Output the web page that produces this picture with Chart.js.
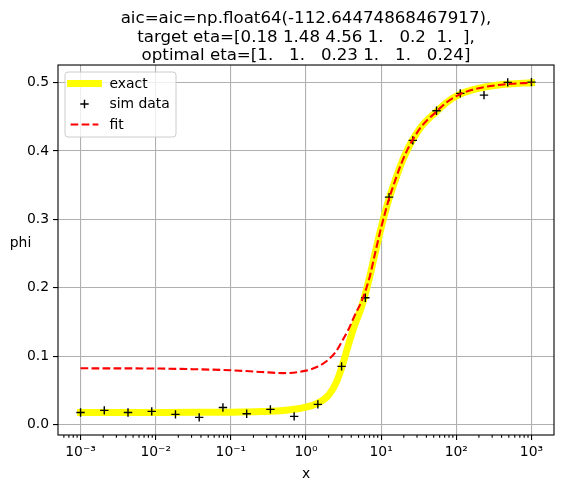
<!DOCTYPE html>
<html>
<head>
<meta charset="utf-8">
<script src="https://cdn.jsdelivr.net/npm/chart.js@4.4.1/dist/chart.umd.min.js"></script>
<style>
  html, body { margin: 0; padding: 0; background: #fff; }
  #wrap { position: relative; width: 564px; height: 492px; }
</style>
</head>
<body>
<div id="wrap"><canvas id="chart"></canvas></div>
<script>
// values
const simX = [0.001, 0.002069, 0.004281, 0.008859, 0.01833, 0.03793, 0.07848, 0.1624, 0.336, 0.6952,
              1.438, 2.976, 6.158, 12.74, 26.37, 54.56, 112.9, 233.6, 483.3, 1000]
const simY = [0.0178, 0.0208, 0.0178, 0.0193, 0.0149, 0.0105, 0.0251, 0.0158, 0.0222, 0.0120,
              0.0295, 0.0851, 0.1854, 0.3326, 0.4155, 0.4588, 0.4842, 0.4817, 0.5003, 0.5007]

const curveX = [0.001, 0.003162, 0.01, 0.03162, 0.1, 0.2512, 0.5012, 1, 1.413, 1.995, 2.512, 3.02,
                3.631, 4.467, 5.623, 7.079, 8.318, 10, 11.48, 12.88, 15.49, 18.62, 22.39, 28.18,
                36.31, 54.95, 74.13, 112.2, 158.5, 251.2, 501.2, 1000]
const exactY = [0.0178, 0.0178, 0.0178, 0.0179, 0.0182, 0.0190, 0.0205, 0.0255, 0.031, 0.043, 0.061, 0.085,
                0.115, 0.146, 0.176, 0.217, 0.251, 0.288, 0.313, 0.332, 0.358, 0.382, 0.402, 0.422,
                0.439, 0.458, 0.471, 0.483, 0.489, 0.494, 0.498, 0.4997]
const fitY = [0.0823, 0.0822, 0.0820, 0.0810, 0.0794, 0.0770, 0.0753, 0.0789, 0.0845, 0.095, 0.107, 0.122,
              0.138, 0.160, 0.183, 0.217, 0.251, 0.288, 0.313, 0.332, 0.358, 0.382, 0.402, 0.422,
              0.439, 0.458, 0.471, 0.483, 0.489, 0.494, 0.498, 0.4997]

const xTickExps = [-3, -2, -1, 0, 1, 2, 3]
const yTicks = [0, 0.1, 0.2, 0.3, 0.4, 0.5]
const titleLines = [
  "aic=aic=np.float64(-112.64474868467917),",
  "target eta=[0.18 1.48 4.56 1.   0.2  1.  ],",
  "optimal eta=[1.   1.   0.23 1.   1.   0.24]"
]

const FONT = "DejaVu Sans"
const SUP = { "-": "\u207B", "0": "\u2070", "1": "\u00B9", "2": "\u00B2", "3": "\u00B3" }
const toPoints = (xs, ys) => xs.map((x, i) => ({ x: x, y: ys[i] }))
const powLabel = (v) => "10" + String(Math.round(Math.log10(v))).split("").map(c => SUP[c]).join("")

Chart.defaults.font.family = FONT
Chart.defaults.color = "#000"

// black box round the axes + short minor ticks on the log axis
const framePlugin = {
  id: "frame",
  afterDatasetsDraw(chart) {
    const { ctx, chartArea } = chart
    const xs = chart.scales.x
    ctx.save()
    ctx.strokeStyle = "#000"
    ctx.lineWidth = 1.1
    for (let k = -4; k <= 3; k++) {
      for (let m = 2; m <= 9; m++) {
        const v = m * Math.pow(10, k)
        if (v < xs.min || v > xs.max) continue
        const px = xs.getPixelForValue(v)
        ctx.beginPath()
        ctx.moveTo(px, chartArea.bottom)
        ctx.lineTo(px, chartArea.bottom + 2.8)
        ctx.stroke()
      }
    }
    ctx.strokeRect(chartArea.left, chartArea.top, chartArea.right - chartArea.left, chartArea.bottom - chartArea.top)
    ctx.restore()
  }
}

// matplotlib style legend in the upper left corner, and the horizontal "phi" label
const legendPlugin = {
  id: "mplLegend",
  afterDraw(chart) {
    const { ctx, chartArea } = chart
    const x0 = chartArea.left + 7, y0 = chartArea.top + 7
    const w = 111, h = 65, r = 3
    ctx.save()
    ctx.beginPath()
    ctx.roundRect(x0, y0, w, h, r)
    ctx.fillStyle = "rgba(255,255,255,0.8)"
    ctx.fill()
    ctx.strokeStyle = "#cccccc"
    ctx.lineWidth = 1
    ctx.stroke()

    const hx0 = x0 + 5.6, hx1 = hx0 + 27.8
    ctx.font = "13.9px " + FONT
    ctx.textBaseline = "middle"
    ctx.textAlign = "left"
    chart.data.datasets.forEach((ds, i) => {
      const cy = y0 + 11.5 + i * 20.5
      ctx.save()
      if (ds.showLine === false) {
        const cx = (hx0 + hx1) / 2, rr = ds.pointRadius
        ctx.strokeStyle = ds.pointBorderColor
        ctx.lineWidth = ds.pointBorderWidth
        ctx.beginPath()
        ctx.moveTo(cx - rr, cy); ctx.lineTo(cx + rr, cy)
        ctx.moveTo(cx, cy - rr); ctx.lineTo(cx, cy + rr)
        ctx.stroke()
      } else {
        ctx.strokeStyle = ds.borderColor
        ctx.lineWidth = ds.borderWidth
        ctx.lineCap = ds.borderCapStyle || "butt"
        ctx.setLineDash(ds.borderDash || [])
        ctx.beginPath()
        ctx.moveTo(hx0, cy); ctx.lineTo(hx1, cy)
        ctx.stroke()
      }
      ctx.restore()
      ctx.fillStyle = "#000"
      ctx.fillText(ds.label, hx1 + 11.1, cy + 0.5)
    })

    ctx.textAlign = "center"
    ctx.fillText("phi", 20.5, 243)
    ctx.restore()
  }
}

new Chart(document.getElementById("chart"), {
  type: "line",
  data: {
    datasets: [
      {
        label: "exact",
        data: toPoints(curveX, exactY),
        borderColor: "#ffff00",
        borderWidth: 7,
        borderCapStyle: "square",
        pointRadius: 0,
        cubicInterpolationMode: "monotone",
        order: 3
      },
      {
        label: "sim data",
        data: toPoints(simX, simY),
        showLine: false,
        pointStyle: "cross",
        pointRadius: 4.2,
        pointBorderColor: "#000000",
        pointBackgroundColor: "#000000",
        pointBorderWidth: 1.4,
        order: 2
      },
      {
        label: "fit",
        data: toPoints(curveX, fitY),
        borderColor: "#ff0000",
        borderWidth: 2.1,
        borderDash: [7.7, 3.3],
        pointRadius: 0,
        cubicInterpolationMode: "monotone",
        order: 1
      }
    ]
  },
  options: {
    responsive: true,
    maintainAspectRatio: false,
    animation: false,
    layout: { padding: { left: 0, right: 10, top: 0, bottom: 0 } },
    plugins: {
      legend: { display: false },
      tooltip: { enabled: false },
      title: {
        display: true,
        fullSize: false,
        text: titleLines,
        color: "#000",
        font: { size: 16.67, weight: "normal", lineHeight: 1.11 },
        padding: { top: 9.5, bottom: 0 }
      }
    },
    scales: {
      x: {
        type: "logarithmic",
        min: Math.pow(10, -3.3),
        max: Math.pow(10, 3.3),
        afterBuildTicks: (scale) => { scale.ticks = xTickExps.map(e => ({ value: Math.pow(10, e) })) },
        afterFit: (scale) => { scale.height = 57 },
        border: { display: false },
        grid: { color: "#b0b0b0", lineWidth: 1.1, tickColor: "#000", tickLength: 5, tickWidth: 1.1 },
        ticks: {
          autoSkip: false,
          maxRotation: 0,
          padding: 4,
          font: { size: 13.9 },
          callback: (value) => powLabel(value)
        },
        title: { display: true, text: "x", font: { size: 13.9 }, padding: { top: 4, bottom: 9.5 } }
      },
      y: {
        type: "linear",
        min: -0.0152,
        max: 0.5257,
        afterBuildTicks: (scale) => { scale.ticks = yTicks.map(v => ({ value: v })) },
        afterFit: (scale) => { scale.width = 58 },
        border: { display: false },
        grid: { color: "#b0b0b0", lineWidth: 1.1, tickColor: "#000", tickLength: 5, tickWidth: 1.1 },
        ticks: {
          padding: 4,
          font: { size: 13.9 },
          callback: (value) => value.toFixed(1)
        }
      }
    }
  },
  plugins: [framePlugin, legendPlugin]
})
</script>
</body>
</html>
